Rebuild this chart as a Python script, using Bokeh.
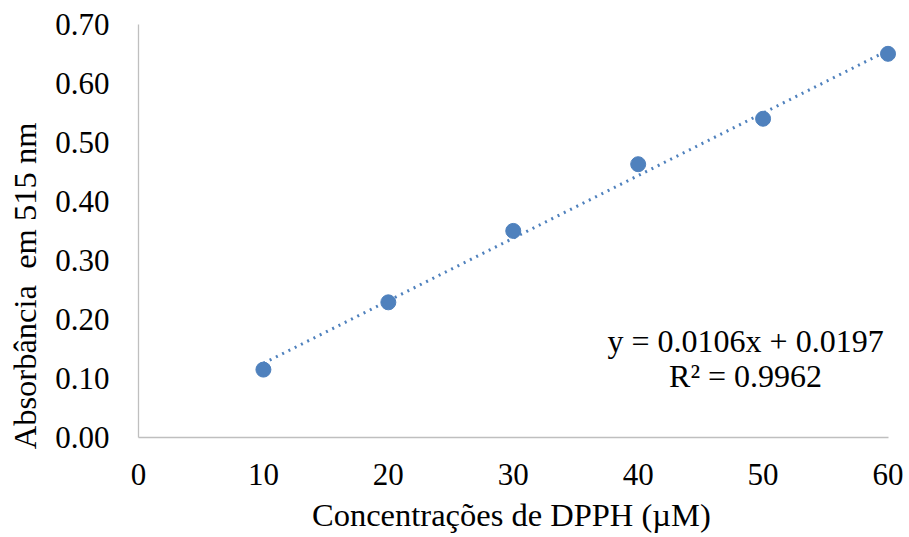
from bokeh.plotting import figure
from bokeh.models import Range1d, Label, FixedTicker, NumeralTickFormatter
from bokeh.embed import file_html
from bokeh.resources import INLINE

# DPPH calibration data
concentrations = [10, 20, 30, 40, 50, 60]
absorbance = [0.115, 0.229, 0.350, 0.463, 0.540, 0.650]
x_ticks = [0, 10, 20, 30, 40, 50, 60]
y_ticks = [0.0, 0.1, 0.2, 0.3, 0.4, 0.5, 0.6, 0.7]

# linear trend line reported on the chart
slope = 0.0106
intercept = 0.0197
r_squared = 0.9962

NBSP = "\u00a0"
x_title = "Concentrações de DPPH (µM)"
y_title = "Absorbância" + NBSP + " em 515 nm"

FONT = "Liberation Serif"
BLUE = "#4f81bd"
AXIS_GREY = "#bfbfbf"

p = figure(width=909, height=537, output_backend="svg", toolbar_location=None,
           x_range=Range1d(0, 61), y_range=Range1d(0, 0.72),
           min_border_left=138, min_border_right=9, min_border_top=12, min_border_bottom=100)
p.outline_line_color = None
p.xgrid.visible = False
p.ygrid.visible = False

for ax in (p.xaxis, p.yaxis):
    ax.axis_line_color = AXIS_GREY
    ax.axis_line_width = 1.3
    ax.major_tick_line_color = None
    ax.minor_tick_line_color = None
    ax.major_label_text_font = FONT
    ax.major_label_text_font_size = "31px"
    ax.major_label_text_color = "black"
    ax.axis_label_text_font = FONT
    ax.axis_label_text_font_size = "32.5px"
    ax.axis_label_text_font_style = "normal"
    ax.axis_label_text_color = "black"

p.xaxis.bounds = (0, 60)
p.yaxis.bounds = (0, 0.7)
p.xaxis.ticker = FixedTicker(ticks=x_ticks)
p.yaxis.ticker = FixedTicker(ticks=y_ticks)
p.yaxis.formatter = NumeralTickFormatter(format="0.00")
p.xaxis.major_label_standoff = 20
p.yaxis.major_label_standoff = 23

# titles centred on the 0-60 / 0-0.70 spans rather than the padded frame
p.xaxis.axis_label = x_title + NBSP * 2
p.yaxis.axis_label = y_title + NBSP * 15
p.xaxis.axis_label_standoff = 9
p.yaxis.axis_label_standoff = 9

# dotted linear trend line
tx = [concentrations[0], concentrations[-1]]
ty = [slope * v + intercept for v in tx]
p.line(tx, ty, line_color=BLUE, line_width=3, line_dash="2 5")

# measured points
p.scatter(concentrations, absorbance, size=15, fill_color=BLUE, line_color=BLUE)

eq = f"y = {slope}x + {intercept}"
r2 = f"R² = {r_squared}"
p.add_layout(Label(x=48.6, y=0.164, text=eq, text_font=FONT, text_font_size="32px",
                   text_align="center", text_baseline="middle", text_color="black"))
p.add_layout(Label(x=48.6, y=0.104, text=r2, text_font=FONT, text_font_size="32px",
                   text_align="center", text_baseline="middle", text_color="black"))

open("out.html", "w").write(file_html(p, INLINE))
